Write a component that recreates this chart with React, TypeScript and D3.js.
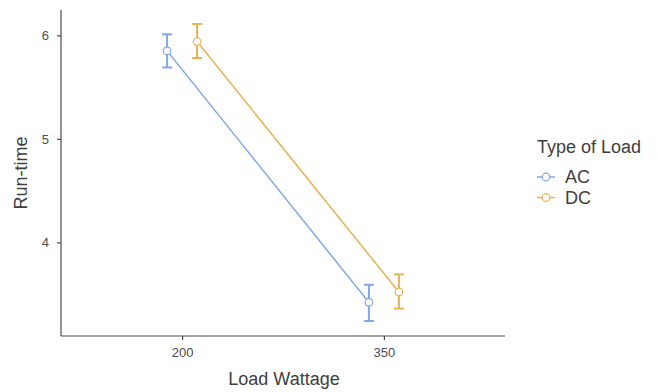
import * as d3 from "d3";
import { useEffect, useRef } from "react";

const wattage = ["200", "350"];
const loadTypes = ["AC", "DC"];
const colors = ["#7fa7e9", "#e9b14f"];
// mean, lower, upper per wattage
const acMean = [5.85, 3.42];
const acLow = [5.69, 3.24];
const acHigh = [6.01, 3.59];
const dcMean = [5.94, 3.52];
const dcLow = [5.78, 3.36];
const dcHigh = [6.11, 3.69];
const yTicks = [4, 5, 6];

const W = 657;
const H = 392;

const App = () => {
  const ref = useRef<SVGSVGElement>(null);

  useEffect(() => {
    const svg = d3.select(ref.current);
    svg.selectAll("*").remove();

    const left = 61, right = 505, top = 10, bottom = 336;

    const x = d3.scalePoint().domain(wattage).range([left, right]).padding(0.6);
    const y = d3.scaleLinear().domain([3.095, 6.245]).range([bottom, top]);

    const series = [
      { name: loadTypes[0], mean: acMean, lo: acLow, hi: acHigh, color: colors[0], dx: -15 },
      { name: loadTypes[1], mean: dcMean, lo: dcLow, hi: dcHigh, color: colors[1], dx: 15 },
    ];

    const font = "'Liberation Sans', Arial, sans-serif";

    // axes
    const gx = svg.append("g").attr("transform", `translate(0,${bottom})`)
      .call(d3.axisBottom(x).tickSize(4).tickPadding(8));
    gx.select(".domain").attr("d", `M${left},0H${right}`);
    const gy = svg.append("g").attr("transform", `translate(${left},0)`)
      .call(d3.axisLeft(y).tickValues(yTicks).tickFormat(d3.format("d")).tickSize(4).tickPadding(8));
    gy.select(".domain").attr("d", `M0,${top}V${bottom}`);
    [gx, gy].forEach(g => {
      g.select(".domain").attr("stroke", "#4a4a4a").attr("stroke-width", 1.2);
      g.selectAll(".tick line").attr("stroke", "#4a4a4a").attr("stroke-width", 1.2);
      g.selectAll(".tick text").attr("fill", "#4d4d4d").style("font-size", "13px").style("font-family", font);
    });

    // lines, error bars, points
    series.forEach(s => {
      const px = (i: number) => (x(wattage[i]) as number) + s.dx;
      const line = d3.line<number>().x((_, i) => px(i)).y(d => y(d));
      svg.append("path").datum(s.mean).attr("d", line)
        .attr("fill", "none").attr("stroke", s.color).attr("stroke-width", 1.5);
      wattage.forEach((_, i) => {
        const g = svg.append("g").attr("stroke", s.color).attr("stroke-width", 2);
        g.append("line").attr("x1", px(i)).attr("x2", px(i)).attr("y1", y(s.lo[i])).attr("y2", y(s.hi[i]));
        g.append("line").attr("x1", px(i) - 5).attr("x2", px(i) + 5).attr("y1", y(s.lo[i])).attr("y2", y(s.lo[i]));
        g.append("line").attr("x1", px(i) - 5).attr("x2", px(i) + 5).attr("y1", y(s.hi[i])).attr("y2", y(s.hi[i]));
      });
      svg.selectAll(null).data(s.mean).enter().append("circle")
        .attr("cx", (_, i) => px(i)).attr("cy", d => y(d)).attr("r", 3.8)
        .attr("fill", "white").attr("stroke", s.color).attr("stroke-width", 1.2);
    });

    // axis titles
    svg.append("text").attr("x", 284).attr("y", 385).attr("text-anchor", "middle")
      .attr("fill", "#404040").style("font-size", "18px").style("font-family", font).text("Load Wattage");
    svg.append("text").attr("transform", `translate(27,${(top + bottom) / 2}) rotate(-90)`)
      .attr("text-anchor", "middle").attr("fill", "#404040").style("font-size", "18px").style("font-family", font).text("Run-time");

    // legend
    svg.append("text").attr("x", 537).attr("y", 153).attr("fill", "#404040")
      .style("font-size", "18px").style("font-family", font).text("Type of Load");
    series.forEach((s, i) => {
      const cy = 177 + i * 20.5;
      svg.append("line").attr("x1", 537).attr("x2", 555).attr("y1", cy).attr("y2", cy)
        .attr("stroke", s.color).attr("stroke-width", 1.5);
      svg.append("circle").attr("cx", 546).attr("cy", cy).attr("r", 3.8)
        .attr("fill", "white").attr("stroke", s.color).attr("stroke-width", 1.2);
      svg.append("text").attr("x", 565).attr("y", cy + 6).attr("fill", "#404040")
        .style("font-size", "18px").style("font-family", font).text(s.name);
    });
  }, []);

  return (
    <svg ref={ref} width={W} height={H}
      style={{ position: "absolute", left: 0, top: 0, background: "white" }} />
  );
};

export default App;
